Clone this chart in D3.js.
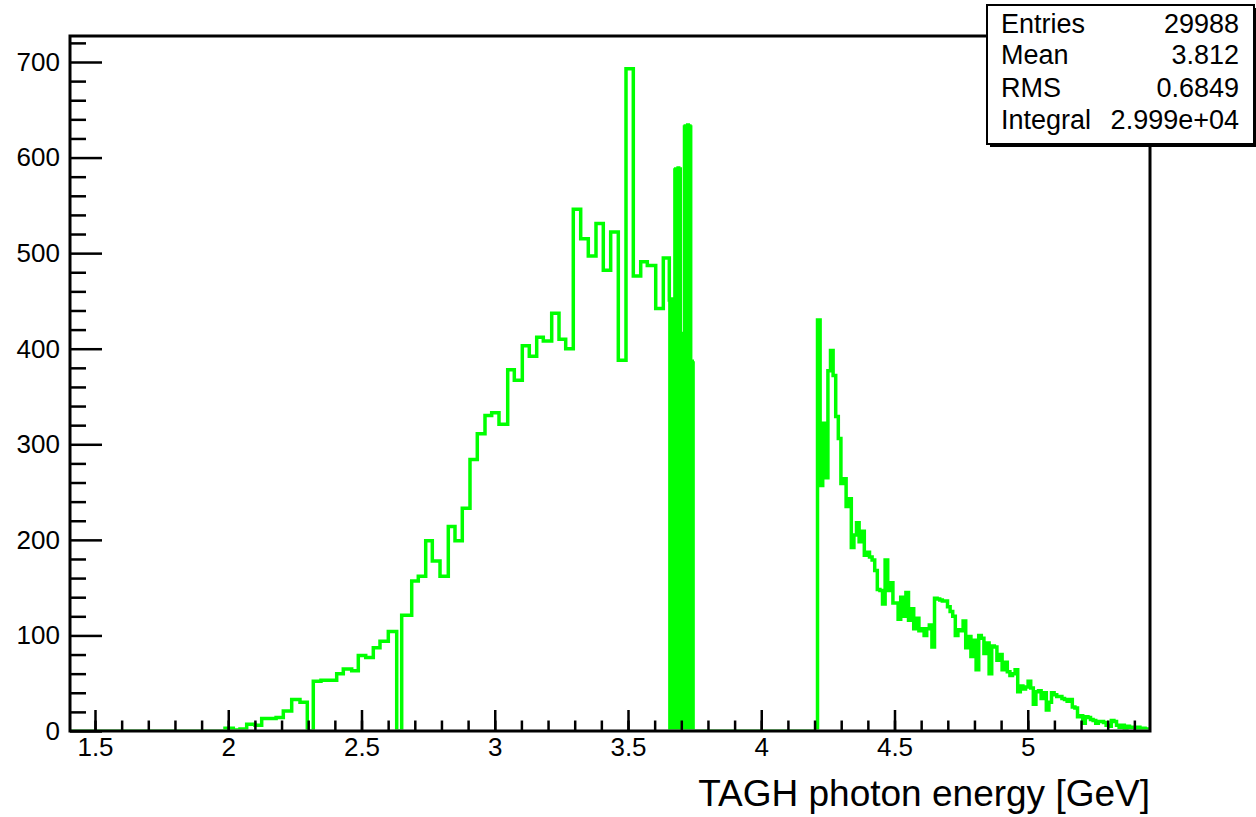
<!DOCTYPE html>
<html>
<head>
<meta charset="utf-8">
<script src="https://cdn.jsdelivr.net/npm/d3@7"></script>
<style>
  body { margin: 0; background: #fff; }
  svg { display: block; }
</style>
</head>
<body>
<script>
// ---- histogram contents (TAGH photon energy, variable-width bins) ----
// low-energy counters: explicit bin edges [GeV] and counts
const lowEdges = [1.9878, 2.0189, 2.0441, 2.0692, 2.1004, 2.1255, 2.1525, 2.1795, 2.2066, 2.2381,
  2.2692, 2.2966, 2.3191, 2.3480, 2.3780, 2.4069, 2.4317, 2.4632, 2.4880, 2.5158,
  2.5443, 2.5694, 2.6006, 2.6321, 2.6508, 2.6884, 2.7131, 2.7409, 2.7657, 2.7946,
  2.8257, 2.8508, 2.8782, 2.9071, 2.9345, 2.9634, 2.9885, 3.0159, 3.0486, 3.0734,
  3.1034, 3.1296, 3.1574, 3.1822, 3.2137, 3.2411, 3.2662, 3.2947, 3.3225, 3.3510,
  3.3799, 3.4073, 3.4350, 3.4636, 3.4925, 3.5199, 3.5477, 3.5724, 3.6040, 3.6325, 3.6550];
const lowCounts = [3, 1, 2, 7, 6, 13, 13, 14, 21, 33,
  30, 0, 52, 53, 53, 60, 65, 63, 79, 77,
  87, 94, 104, 0, 121, 157, 162, 199, 178, 162,
  214, 199, 233, 284, 311, 330, 333, 321, 378, 367,
  403, 392, 412, 408, 437, 410, 400, 546, 515, 497,
  531, 482, 522, 388, 693, 476, 491, 487, 442, 495];

// narrow counters near the coherent peak (each followed by a small empty gap)
const peakRange = [3.655, 3.745];
const peakCounts = [451, 449, 452, 450, 451, 448, 452,
  587, 588, 586, 588, 589, 587, 588,
  414, 416, 415, 413, 415,
  632, 633, 631, 633, 634, 632, 633, 632,
  386, 387, 385];

// high-energy counters: equal-width bins across this range
const highRange = [4.2111, 5.4599];
const highCounts = [430, 257, 322, 265, 377, 398, 372, 329, 306, 259,
  264, 235, 243, 192, 205, 218, 198, 209, 184, 187,
  182, 179, 168, 148, 147, 133, 179, 147, 155, 134,
  134, 117, 140, 120, 145, 116, 128, 107, 118, 105,
  107, 100, 107, 111, 88, 139, 138, 137, 136, 136,
  130, 125, 120, 100, 106, 105, 115, 87, 99, 78,
  95, 64, 100, 97, 81, 92, 60, 89, 88, 74,
  80, 64, 72, 62, 58, 60, 64, 41, 47, 44,
  46, 52, 45, 28, 41, 42, 34, 40, 22, 30,
  40, 38, 36, 36, 34, 33, 31, 33, 25, 24,
  15, 16, 8, 15, 14, 12, 11, 8, 10, 10,
  9, 6, 5, 11, 10, 6, 4, 6, 3, 5,
  4, 4, 3, 4, 2, 3, 2, 2];

// axis ranges and tick labels
const xRange = [1.4062, 5.4587];
const yRange = [0, 727.2];
const xMajorTicks = [1.5, 2, 2.5, 3, 3.5, 4, 4.5, 5];
const xTickLabels = ["1.5", "2", "2.5", "3", "3.5", "4", "4.5", "5"];
const yMajorTicks = [0, 100, 200, 300, 400, 500, 600, 700];
const yTickLabels = ["0", "100", "200", "300", "400", "500", "600", "700"];
const xTitle = "TAGH photon energy [GeV]";

// statistics box
const statNames = ["Entries", "Mean", "RMS", "Integral"];
const statValues = ["29988", "3.812", "0.6849", "2.999e+04"];

// ---- layout ----
const W = 1256, H = 817;
const frame = { left: 70, right: 1150, top: 36, bottom: 731 };
const FONT = "'Liberation Sans', Arial, Helvetica, sans-serif";
const GREEN = "#00ff00";

const svg = d3.select("body").append("svg")
  .attr("width", W).attr("height", H)
  .style("background", "#fff");

const x = d3.scaleLinear().domain(xRange).range([frame.left, frame.right]);
const y = d3.scaleLinear().domain(yRange).range([frame.bottom, frame.top]);

// ---- assemble bins ----
const bins = [];
for (let i = 0; i < lowCounts.length; i++) {
  bins.push({ x0: lowEdges[i], x1: lowEdges[i + 1], v: lowCounts[i] });
}
{
  const step = (peakRange[1] - peakRange[0]) / peakCounts.length;
  const gap = step * 0.27;
  peakCounts.forEach((v, k) => {
    const a = peakRange[0] + k * step;
    bins.push({ x0: a, x1: a + step - gap, v: v });
    bins.push({ x0: a + step - gap, x1: a + step, v: 0 });
  });
}
{
  const step = (highRange[1] - highRange[0]) / highCounts.length;
  highCounts.forEach((v, k) => {
    bins.push({ x0: highRange[0] + k * step, x1: highRange[0] + (k + 1) * step, v: v });
  });
}

// outline as a stepped polyline; empty stretches sit on the zero line
const pts = [[xRange[0], 0]];
bins.forEach(b => {
  const last = pts[pts.length - 1];
  if (Math.abs(last[0] - b.x0) > 1e-9) { pts.push([last[0], 0]); pts.push([b.x0, 0]); }
  pts.push([b.x0, b.v]);
  pts.push([b.x1, b.v]);
});
pts.push([pts[pts.length - 1][0], 0]);
pts.push([xRange[1], 0]);

// the outline stays inside the frame; the zero line hides under the bottom axis
svg.append("clipPath").attr("id", "frameClip")
  .append("rect")
  .attr("x", frame.left).attr("y", frame.top - 2)
  .attr("width", frame.right - frame.left).attr("height", frame.bottom - frame.top + 0.5);

const line = d3.line().x(d => x(d[0])).y(d => y(d[1]));
svg.append("path")
  .attr("clip-path", "url(#frameClip)")
  .attr("d", line(pts))
  .attr("fill", "none")
  .attr("stroke", GREEN)
  .attr("stroke-width", 3.5)
  .attr("stroke-linejoin", "miter")
  .attr("stroke-miterlimit", 2);

// ---- axes (ticks point into the frame) ----
function styleAxis(g) {
  g.select(".domain").remove();
  g.selectAll(".tick line").attr("stroke", "#000").attr("stroke-width", 2.5);
  g.selectAll("text").attr("fill", "#000").style("font-family", FONT).style("font-size", "26px");
}

const xMinor = d3.range(15, 55).map(d => d / 10).filter(d => d > xRange[0] && d < xRange[1]);
svg.append("g")
  .attr("transform", `translate(0,${frame.bottom})`)
  .call(d3.axisBottom(x).tickValues(xMinor).tickSize(-10.5).tickFormat(""))
  .call(styleAxis);
svg.append("g")
  .attr("transform", `translate(0,${frame.bottom})`)
  .call(d3.axisBottom(x).tickValues(xMajorTicks).tickSize(-21).tickPadding(7)
    .tickFormat((d, i) => xTickLabels[i]))
  .call(styleAxis);

const yMinor = d3.range(0, 721, 20).filter(d => d % 100 !== 0);
svg.append("g")
  .attr("transform", `translate(${frame.left},0)`)
  .call(d3.axisLeft(y).tickValues(yMinor).tickSize(-16).tickFormat(""))
  .call(styleAxis);
svg.append("g")
  .attr("transform", `translate(${frame.left},0)`)
  .call(d3.axisLeft(y).tickValues(yMajorTicks).tickSize(-32).tickPadding(10)
    .tickFormat((d, i) => yTickLabels[i]))
  .call(styleAxis);

// frame
svg.append("rect")
  .attr("x", frame.left).attr("y", frame.top)
  .attr("width", frame.right - frame.left).attr("height", frame.bottom - frame.top)
  .attr("fill", "none").attr("stroke", "#000").attr("stroke-width", 3);

// axis title
svg.append("text")
  .attr("x", frame.right).attr("y", 806)
  .attr("text-anchor", "end")
  .style("font-family", FONT).style("font-size", "37px")
  .text(xTitle);

// ---- statistics box ----
const box = { x: 987, y: 5, w: 267, h: 139 };
svg.append("rect")
  .attr("x", box.x + 3).attr("y", box.y + 3)
  .attr("width", box.w).attr("height", box.h)
  .attr("fill", "#000");
svg.append("rect")
  .attr("x", box.x).attr("y", box.y)
  .attr("width", box.w).attr("height", box.h)
  .attr("fill", "#fff").attr("stroke", "#000").attr("stroke-width", 2);

const rowBase = [33, 64, 97, 129];
statNames.forEach((name, i) => {
  svg.append("text")
    .attr("x", box.x + 14).attr("y", rowBase[i])
    .style("font-family", FONT).style("font-size", "27px")
    .text(name);
  svg.append("text")
    .attr("x", box.x + 252).attr("y", rowBase[i])
    .attr("text-anchor", "end")
    .style("font-family", FONT).style("font-size", "27px")
    .text(statValues[i]);
});
</script>
</body>
</html>
